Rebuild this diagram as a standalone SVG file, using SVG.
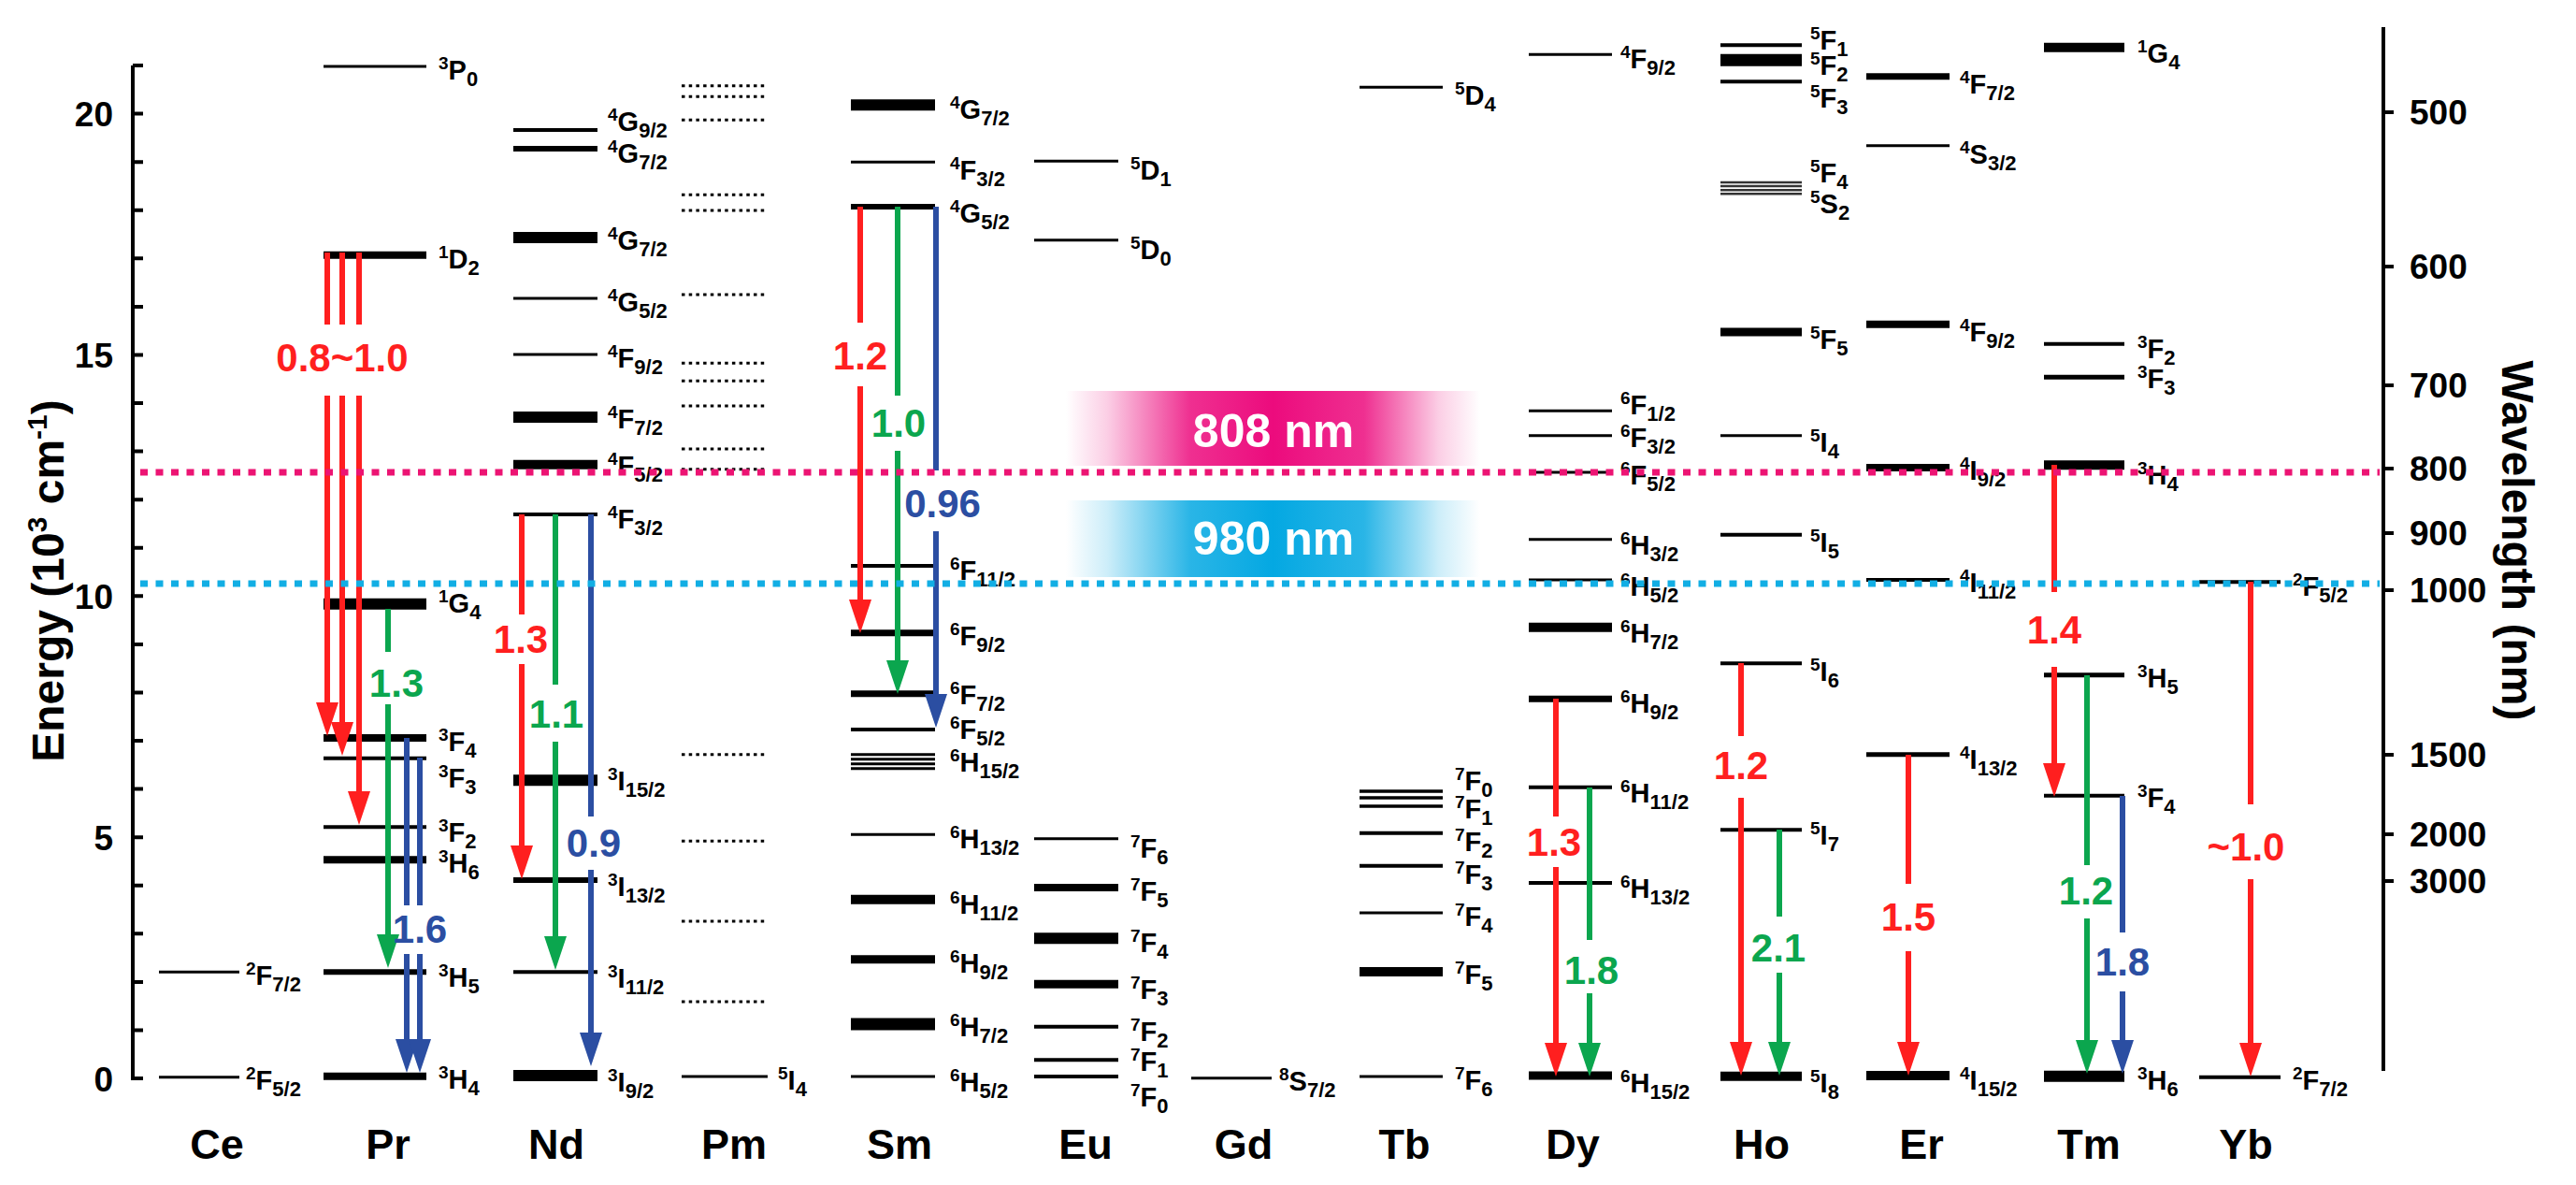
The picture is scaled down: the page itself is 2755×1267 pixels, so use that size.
<svg xmlns="http://www.w3.org/2000/svg" width="2755" height="1267" viewBox="0 0 2755 1267">
<defs>
<style>
text{font-family:"Liberation Sans",Arial,sans-serif;font-weight:bold}
.lv{stroke:#000;fill:none}
.pm{stroke:#000;stroke-width:3;stroke-dasharray:3.5 4.2;fill:none}
.lb{font-size:29px}
.sp{font-size:19px}
.sb{font-size:22px}
.el{font-size:45px;text-anchor:middle}
.tk{font-size:37px}
.ax{stroke:#000;stroke-width:4;fill:none}
.ar{stroke-width:6;fill:none}
.r{stroke:#FF1F1F}.g{stroke:#0BA64E}.b{stroke:#2B4EA2}
.nr,.ng,.nb{font-size:42px;text-anchor:middle}
.nr{fill:#FF1F1F}.ng{fill:#0BA64E}.nb{fill:#2B4EA2}
.las{stroke-width:7;stroke-dasharray:8 8.5;fill:none}
.wl{font-size:50px;fill:#fff;text-anchor:middle}
</style>
<marker id="mr" viewBox="0 -13 36 26" markerWidth="36" markerHeight="26" refX="21" refY="0" orient="auto" markerUnits="userSpaceOnUse"><path d="M0,-12L36,0L0,12z" fill="#FF1F1F"/></marker>
<marker id="mg" viewBox="0 -13 36 26" markerWidth="36" markerHeight="26" refX="21" refY="0" orient="auto" markerUnits="userSpaceOnUse"><path d="M0,-12L36,0L0,12z" fill="#0BA64E"/></marker>
<marker id="mb" viewBox="0 -13 36 26" markerWidth="36" markerHeight="26" refX="21" refY="0" orient="auto" markerUnits="userSpaceOnUse"><path d="M0,-12L36,0L0,12z" fill="#2B4EA2"/></marker>
<linearGradient id="gp" x1="0" y1="0" x2="1" y2="0">
<stop offset="0" stop-color="#EC0B7D" stop-opacity="0"/>
<stop offset="0.1" stop-color="#EC0B7D" stop-opacity="0.2"/>
<stop offset="0.3" stop-color="#EC0B7D" stop-opacity="0.85"/>
<stop offset="0.5" stop-color="#EC0B7D" stop-opacity="1"/>
<stop offset="0.72" stop-color="#EC0B7D" stop-opacity="0.85"/>
<stop offset="0.9" stop-color="#EC0B7D" stop-opacity="0.2"/>
<stop offset="1" stop-color="#EC0B7D" stop-opacity="0"/>
</linearGradient>
<linearGradient id="gc" x1="0" y1="0" x2="1" y2="0">
<stop offset="0" stop-color="#04A8E2" stop-opacity="0"/>
<stop offset="0.1" stop-color="#04A8E2" stop-opacity="0.2"/>
<stop offset="0.3" stop-color="#04A8E2" stop-opacity="0.85"/>
<stop offset="0.5" stop-color="#04A8E2" stop-opacity="1"/>
<stop offset="0.72" stop-color="#04A8E2" stop-opacity="0.85"/>
<stop offset="0.9" stop-color="#04A8E2" stop-opacity="0.2"/>
<stop offset="1" stop-color="#04A8E2" stop-opacity="0"/>
</linearGradient>
</defs>
<rect width="2755" height="1267" fill="#fff"/>

<g id="axes">
<path class="ax" d="M142 70V1155"/>
<path class="ax" d="M142 1153h11M142 1101.4h11M142 1049.9h11M142 998.3h11M142 946.7h11M142 895.2h11M142 843.6h11M142 792h11M142 740.4h11M142 688.9h11M142 637.3h11M142 585.7h11M142 534.2h11M142 482.6h11M142 431h11M142 379.5h11M142 327.9h11M142 276.3h11M142 224.7h11M142 173.2h11M142 121.6h11M142 70h11"/>
<g class="tk" text-anchor="end">
<text x="121" y="1167">0</text>
<text x="121" y="909">5</text>
<text x="121" y="651">10</text>
<text x="121" y="393">15</text>
<text x="121" y="135">20</text>
</g>
<text font-size="48" text-anchor="middle" transform="translate(68 621) rotate(-90)">Energy (10<tspan font-size="30" dy="-18">3</tspan><tspan dy="18"> cm</tspan><tspan font-size="30" dy="-18">-1</tspan><tspan dy="18">)</tspan></text>
<path class="ax" d="M2549 29V1145"/>
<path class="ax" d="M2549 120h11M2549 285h11M2549 412h11M2549 501h11M2549 570h11M2549 631h11M2549 807h11M2549 892h11M2549 942h11"/>
<g class="tk">
<text x="2577" y="133">500</text>
<text x="2577" y="298">600</text>
<text x="2577" y="425">700</text>
<text x="2577" y="514">800</text>
<text x="2577" y="583">900</text>
<text x="2577" y="644">1000</text>
<text x="2577" y="820">1500</text>
<text x="2577" y="905">2000</text>
<text x="2577" y="955">3000</text>
</g>
<text font-size="48" text-anchor="middle" transform="translate(2676 578) rotate(90)">Wavelength (nm)</text>
</g>

<g id="Ce">
<path class="lv" stroke-width="3" d="M170 1039.3H256M170 1151.7H256"/>
<text class="lb" x="263" y="1053"><tspan class="sp" dy="-11">2</tspan><tspan dy="11">F</tspan><tspan class="sb" dy="7">7/2</tspan></text>
<text class="lb" x="263" y="1165"><tspan class="sp" dy="-11">2</tspan><tspan dy="11">F</tspan><tspan class="sb" dy="7">5/2</tspan></text>
<text class="el" x="232" y="1239">Ce</text>
</g>

<g id="Pr">
<path class="lv" stroke-width="3" d="M346 71H456"/>
<path class="lv" stroke-width="8" d="M346 272.7H456M346 789H456M346 919.3H456M346 1150.7H456"/>
<path class="lv" stroke-width="12" d="M346 645.7H456"/>
<path class="lv" stroke-width="4" d="M346 810.7H456M346 884.3H456"/>
<path class="lv" stroke-width="6" d="M346 1039.3H456"/>
<text class="lb" x="469" y="85"><tspan class="sp" dy="-11">3</tspan><tspan dy="11">P</tspan><tspan class="sb" dy="7">0</tspan></text>
<text class="lb" x="469" y="287"><tspan class="sp" dy="-11">1</tspan><tspan dy="11">D</tspan><tspan class="sb" dy="7">2</tspan></text>
<text class="lb" x="469" y="655"><tspan class="sp" dy="-11">1</tspan><tspan dy="11">G</tspan><tspan class="sb" dy="7">4</tspan></text>
<text class="lb" x="469" y="803"><tspan class="sp" dy="-11">3</tspan><tspan dy="11">F</tspan><tspan class="sb" dy="7">4</tspan></text>
<text class="lb" x="469" y="842"><tspan class="sp" dy="-11">3</tspan><tspan dy="11">F</tspan><tspan class="sb" dy="7">3</tspan></text>
<text class="lb" x="469" y="900"><tspan class="sp" dy="-11">3</tspan><tspan dy="11">F</tspan><tspan class="sb" dy="7">2</tspan></text>
<text class="lb" x="469" y="933"><tspan class="sp" dy="-11">3</tspan><tspan dy="11">H</tspan><tspan class="sb" dy="7">6</tspan></text>
<text class="lb" x="469" y="1055"><tspan class="sp" dy="-11">3</tspan><tspan dy="11">H</tspan><tspan class="sb" dy="7">5</tspan></text>
<text class="lb" x="469" y="1164"><tspan class="sp" dy="-11">3</tspan><tspan dy="11">H</tspan><tspan class="sb" dy="7">4</tspan></text>
<text class="el" x="415" y="1239">Pr</text>
</g>

<g id="Nd">
<path class="lv" stroke-width="4" d="M549 139H639M549 550H639M549 1039.3H639"/>
<path class="lv" stroke-width="6" d="M549 159H639M549 941H639"/>
<path class="lv" stroke-width="12" d="M549 254H639M549 446H639M549 834.3H639M549 1150H639"/>
<path class="lv" stroke-width="3" d="M549 319H639M549 379H639"/>
<path class="lv" stroke-width="10" d="M549 496.7H639"/>
<text class="lb" x="650" y="140"><tspan class="sp" dy="-11">4</tspan><tspan dy="11">G</tspan><tspan class="sb" dy="7">9/2</tspan></text>
<text class="lb" x="650" y="174"><tspan class="sp" dy="-11">4</tspan><tspan dy="11">G</tspan><tspan class="sb" dy="7">7/2</tspan></text>
<text class="lb" x="650" y="267"><tspan class="sp" dy="-11">4</tspan><tspan dy="11">G</tspan><tspan class="sb" dy="7">7/2</tspan></text>
<text class="lb" x="650" y="333"><tspan class="sp" dy="-11">4</tspan><tspan dy="11">G</tspan><tspan class="sb" dy="7">5/2</tspan></text>
<text class="lb" x="650" y="393"><tspan class="sp" dy="-11">4</tspan><tspan dy="11">F</tspan><tspan class="sb" dy="7">9/2</tspan></text>
<text class="lb" x="650" y="458"><tspan class="sp" dy="-11">4</tspan><tspan dy="11">F</tspan><tspan class="sb" dy="7">7/2</tspan></text>
<text class="lb" x="650" y="508"><tspan class="sp" dy="-11">4</tspan><tspan dy="11">F</tspan><tspan class="sb" dy="7">5/2</tspan></text>
<text class="lb" x="650" y="565"><tspan class="sp" dy="-11">4</tspan><tspan dy="11">F</tspan><tspan class="sb" dy="7">3/2</tspan></text>
<text class="lb" x="650" y="845"><tspan class="sp" dy="-11">3</tspan><tspan dy="11">I</tspan><tspan class="sb" dy="7">15/2</tspan></text>
<text class="lb" x="650" y="958"><tspan class="sp" dy="-11">3</tspan><tspan dy="11">I</tspan><tspan class="sb" dy="7">13/2</tspan></text>
<text class="lb" x="650" y="1056"><tspan class="sp" dy="-11">3</tspan><tspan dy="11">I</tspan><tspan class="sb" dy="7">11/2</tspan></text>
<text class="lb" x="650" y="1167"><tspan class="sp" dy="-11">3</tspan><tspan dy="11">I</tspan><tspan class="sb" dy="7">9/2</tspan></text>
<text class="el" x="595" y="1239">Nd</text>
</g>

<g id="Pm">
<path class="pm" d="M729 91.7H821M729 103.3H821M729 128.3H821M729 208.3H821M729 225H821M729 315H821M729 388.3H821M729 407.3H821M729 434H821M729 480H821M729 501.7H821M729 806.7H821M729 899.3H821M729 985H821M729 1071H821"/>
<path class="lv" stroke-width="3" d="M729 1151H821"/>
<text class="lb" x="832" y="1165"><tspan class="sp" dy="-11">5</tspan><tspan dy="11">I</tspan><tspan class="sb" dy="7">4</tspan></text>
<text class="el" x="785" y="1239">Pm</text>
</g>

<g id="Sm">
<path class="lv" stroke-width="12" d="M910 112.3H1000"/>
<path class="lv" stroke-width="3" d="M910 173.3H1000M910 806.7H1000M910 811.7H1000M910 816.7H1000M910 821.7H1000M910 892.3H1000M910 1151H1000"/>
<path class="lv" stroke-width="6" d="M910 221H1000"/>
<path class="lv" stroke-width="4" d="M910 605H1000M910 780H1000"/>
<path class="lv" stroke-width="7" d="M910 676.7H1000M910 741.7H1000"/>
<path class="lv" stroke-width="10" d="M910 961.7H1000"/>
<path class="lv" stroke-width="9" d="M910 1025.7H1000"/>
<path class="lv" stroke-width="13" d="M910 1095H1000"/>
<text class="lb" x="1016" y="127"><tspan class="sp" dy="-11">4</tspan><tspan dy="11">G</tspan><tspan class="sb" dy="7">7/2</tspan></text>
<text class="lb" x="1016" y="192"><tspan class="sp" dy="-11">4</tspan><tspan dy="11">F</tspan><tspan class="sb" dy="7">3/2</tspan></text>
<text class="lb" x="1016" y="238"><tspan class="sp" dy="-11">4</tspan><tspan dy="11">G</tspan><tspan class="sb" dy="7">5/2</tspan></text>
<text class="lb" x="1016" y="620"><tspan class="sp" dy="-11">6</tspan><tspan dy="11">F</tspan><tspan class="sb" dy="7">11/2</tspan></text>
<text class="lb" x="1016" y="690"><tspan class="sp" dy="-11">6</tspan><tspan dy="11">F</tspan><tspan class="sb" dy="7">9/2</tspan></text>
<text class="lb" x="1016" y="753"><tspan class="sp" dy="-11">6</tspan><tspan dy="11">F</tspan><tspan class="sb" dy="7">7/2</tspan></text>
<text class="lb" x="1016" y="790"><tspan class="sp" dy="-11">6</tspan><tspan dy="11">F</tspan><tspan class="sb" dy="7">5/2</tspan></text>
<text class="lb" x="1016" y="825"><tspan class="sp" dy="-11">6</tspan><tspan dy="11">H</tspan><tspan class="sb" dy="7">15/2</tspan></text>
<text class="lb" x="1016" y="907"><tspan class="sp" dy="-11">6</tspan><tspan dy="11">H</tspan><tspan class="sb" dy="7">13/2</tspan></text>
<text class="lb" x="1016" y="977"><tspan class="sp" dy="-11">6</tspan><tspan dy="11">H</tspan><tspan class="sb" dy="7">11/2</tspan></text>
<text class="lb" x="1016" y="1040"><tspan class="sp" dy="-11">6</tspan><tspan dy="11">H</tspan><tspan class="sb" dy="7">9/2</tspan></text>
<text class="lb" x="1016" y="1108"><tspan class="sp" dy="-11">6</tspan><tspan dy="11">H</tspan><tspan class="sb" dy="7">7/2</tspan></text>
<text class="lb" x="1016" y="1167"><tspan class="sp" dy="-11">6</tspan><tspan dy="11">H</tspan><tspan class="sb" dy="7">5/2</tspan></text>
<text class="el" x="962" y="1239">Sm</text>
</g>

<g id="Eu">
<path class="lv" stroke-width="3" d="M1106 172.3H1196M1106 256.7H1196M1106 896.7H1196"/>
<path class="lv" stroke-width="8" d="M1106 949H1196"/>
<path class="lv" stroke-width="12" d="M1106 1003.3H1196"/>
<path class="lv" stroke-width="9" d="M1106 1052.3H1196"/>
<path class="lv" stroke-width="4" d="M1106 1097.7H1196M1106 1133.3H1196M1106 1151H1196"/>
<text class="lb" x="1209" y="192"><tspan class="sp" dy="-11">5</tspan><tspan dy="11">D</tspan><tspan class="sb" dy="7">1</tspan></text>
<text class="lb" x="1209" y="277"><tspan class="sp" dy="-11">5</tspan><tspan dy="11">D</tspan><tspan class="sb" dy="7">0</tspan></text>
<text class="lb" x="1209" y="917"><tspan class="sp" dy="-11">7</tspan><tspan dy="11">F</tspan><tspan class="sb" dy="7">6</tspan></text>
<text class="lb" x="1209" y="963"><tspan class="sp" dy="-11">7</tspan><tspan dy="11">F</tspan><tspan class="sb" dy="7">5</tspan></text>
<text class="lb" x="1209" y="1018"><tspan class="sp" dy="-11">7</tspan><tspan dy="11">F</tspan><tspan class="sb" dy="7">4</tspan></text>
<text class="lb" x="1209" y="1068"><tspan class="sp" dy="-11">7</tspan><tspan dy="11">F</tspan><tspan class="sb" dy="7">3</tspan></text>
<text class="lb" x="1209" y="1113"><tspan class="sp" dy="-11">7</tspan><tspan dy="11">F</tspan><tspan class="sb" dy="7">2</tspan></text>
<text class="lb" x="1209" y="1145"><tspan class="sp" dy="-11">7</tspan><tspan dy="11">F</tspan><tspan class="sb" dy="7">1</tspan></text>
<text class="lb" x="1209" y="1183"><tspan class="sp" dy="-11">7</tspan><tspan dy="11">F</tspan><tspan class="sb" dy="7">0</tspan></text>
<text class="el" x="1161" y="1239">Eu</text>
</g>

<g id="Gd">
<path class="lv" stroke-width="3" d="M1274 1152.7H1360"/>
<text class="lb" x="1368" y="1166"><tspan class="sp" dy="-11">8</tspan><tspan dy="11">S</tspan><tspan class="sb" dy="7">7/2</tspan></text>
<text class="el" x="1330" y="1239">Gd</text>
</g>

<g id="Tb">
<path class="lv" stroke-width="3" d="M1454 93.3H1543M1454 976H1543M1454 1151H1543"/>
<path class="lv" stroke-width="3.5" d="M1454 846H1543M1454 853H1543M1454 862H1543"/>
<path class="lv" stroke-width="4" d="M1454 890.7H1543M1454 925.7H1543"/>
<path class="lv" stroke-width="10" d="M1454 1039H1543"/>
<text class="lb" x="1556" y="112"><tspan class="sp" dy="-11">5</tspan><tspan dy="11">D</tspan><tspan class="sb" dy="7">4</tspan></text>
<text class="lb" x="1556" y="845"><tspan class="sp" dy="-11">7</tspan><tspan dy="11">F</tspan><tspan class="sb" dy="7">0</tspan></text>
<text class="lb" x="1556" y="875"><tspan class="sp" dy="-11">7</tspan><tspan dy="11">F</tspan><tspan class="sb" dy="7">1</tspan></text>
<text class="lb" x="1556" y="910"><tspan class="sp" dy="-11">7</tspan><tspan dy="11">F</tspan><tspan class="sb" dy="7">2</tspan></text>
<text class="lb" x="1556" y="945"><tspan class="sp" dy="-11">7</tspan><tspan dy="11">F</tspan><tspan class="sb" dy="7">3</tspan></text>
<text class="lb" x="1556" y="990"><tspan class="sp" dy="-11">7</tspan><tspan dy="11">F</tspan><tspan class="sb" dy="7">4</tspan></text>
<text class="lb" x="1556" y="1052"><tspan class="sp" dy="-11">7</tspan><tspan dy="11">F</tspan><tspan class="sb" dy="7">5</tspan></text>
<text class="lb" x="1556" y="1165"><tspan class="sp" dy="-11">7</tspan><tspan dy="11">F</tspan><tspan class="sb" dy="7">6</tspan></text>
<text class="el" x="1502" y="1239">Tb</text>
</g>

<g id="Dy">
<path class="lv" stroke-width="3" d="M1635 58.3H1724M1635 439.3H1724M1635 465.7H1724M1635 505H1724M1635 576.7H1724M1635 620H1724"/>
<path class="lv" stroke-width="10" d="M1635 670.7H1724"/>
<path class="lv" stroke-width="7" d="M1635 747.3H1724"/>
<path class="lv" stroke-width="4" d="M1635 841.7H1724M1635 944H1724"/>
<path class="lv" stroke-width="9" d="M1635 1150H1724"/>
<text class="lb" x="1733" y="73"><tspan class="sp" dy="-11">4</tspan><tspan dy="11">F</tspan><tspan class="sb" dy="7">9/2</tspan></text>
<text class="lb" x="1733" y="443"><tspan class="sp" dy="-11">6</tspan><tspan dy="11">F</tspan><tspan class="sb" dy="7">1/2</tspan></text>
<text class="lb" x="1733" y="478"><tspan class="sp" dy="-11">6</tspan><tspan dy="11">F</tspan><tspan class="sb" dy="7">3/2</tspan></text>
<text class="lb" x="1733" y="518"><tspan class="sp" dy="-11">6</tspan><tspan dy="11">F</tspan><tspan class="sb" dy="7">5/2</tspan></text>
<text class="lb" x="1733" y="593"><tspan class="sp" dy="-11">6</tspan><tspan dy="11">H</tspan><tspan class="sb" dy="7">3/2</tspan></text>
<text class="lb" x="1733" y="637"><tspan class="sp" dy="-11">6</tspan><tspan dy="11">H</tspan><tspan class="sb" dy="7">5/2</tspan></text>
<text class="lb" x="1733" y="687"><tspan class="sp" dy="-11">6</tspan><tspan dy="11">H</tspan><tspan class="sb" dy="7">7/2</tspan></text>
<text class="lb" x="1733" y="762"><tspan class="sp" dy="-11">6</tspan><tspan dy="11">H</tspan><tspan class="sb" dy="7">9/2</tspan></text>
<text class="lb" x="1733" y="858"><tspan class="sp" dy="-11">6</tspan><tspan dy="11">H</tspan><tspan class="sb" dy="7">11/2</tspan></text>
<text class="lb" x="1733" y="960"><tspan class="sp" dy="-11">6</tspan><tspan dy="11">H</tspan><tspan class="sb" dy="7">13/2</tspan></text>
<text class="lb" x="1733" y="1168"><tspan class="sp" dy="-11">6</tspan><tspan dy="11">H</tspan><tspan class="sb" dy="7">15/2</tspan></text>
<text class="el" x="1682" y="1239">Dy</text>
</g>

<g id="Ho">
<path class="lv" stroke-width="4" d="M1840 48.3H1927M1840 87.3H1927M1840 571.7H1927M1840 709.3H1927M1840 887.3H1927"/>
<path class="lv" stroke-width="13" d="M1840 64.3H1927"/>
<path stroke="#333" stroke-width="2.5" fill="none" d="M1840 195H1927M1840 199H1927M1840 203.3H1927M1840 207.3H1927"/>
<path class="lv" stroke-width="9" d="M1840 355H1927"/>
<path class="lv" stroke-width="3" d="M1840 465.7H1927"/>
<path class="lv" stroke-width="10" d="M1840 1150.7H1927"/>
<text class="lb" x="1936" y="53"><tspan class="sp" dy="-11">5</tspan><tspan dy="11">F</tspan><tspan class="sb" dy="7">1</tspan></text>
<text class="lb" x="1936" y="80"><tspan class="sp" dy="-11">5</tspan><tspan dy="11">F</tspan><tspan class="sb" dy="7">2</tspan></text>
<text class="lb" x="1936" y="115"><tspan class="sp" dy="-11">5</tspan><tspan dy="11">F</tspan><tspan class="sb" dy="7">3</tspan></text>
<text class="lb" x="1936" y="195"><tspan class="sp" dy="-11">5</tspan><tspan dy="11">F</tspan><tspan class="sb" dy="7">4</tspan></text>
<text class="lb" x="1936" y="228"><tspan class="sp" dy="-11">5</tspan><tspan dy="11">S</tspan><tspan class="sb" dy="7">2</tspan></text>
<text class="lb" x="1936" y="373"><tspan class="sp" dy="-11">5</tspan><tspan dy="11">F</tspan><tspan class="sb" dy="7">5</tspan></text>
<text class="lb" x="1936" y="483"><tspan class="sp" dy="-11">5</tspan><tspan dy="11">I</tspan><tspan class="sb" dy="7">4</tspan></text>
<text class="lb" x="1936" y="590"><tspan class="sp" dy="-11">5</tspan><tspan dy="11">I</tspan><tspan class="sb" dy="7">5</tspan></text>
<text class="lb" x="1936" y="728"><tspan class="sp" dy="-11">5</tspan><tspan dy="11">I</tspan><tspan class="sb" dy="7">6</tspan></text>
<text class="lb" x="1936" y="903"><tspan class="sp" dy="-11">5</tspan><tspan dy="11">I</tspan><tspan class="sb" dy="7">7</tspan></text>
<text class="lb" x="1936" y="1168"><tspan class="sp" dy="-11">5</tspan><tspan dy="11">I</tspan><tspan class="sb" dy="7">8</tspan></text>
<text class="el" x="1884" y="1239">Ho</text>
</g>

<g id="Er">
<path class="lv" stroke-width="7" d="M1996 81.7H2085"/>
<path class="lv" stroke-width="3" d="M1996 155.7H2085"/>
<path class="lv" stroke-width="8" d="M1996 346.7H2085M1996 500H2085"/>
<path class="lv" stroke-width="4" d="M1996 620H2085"/>
<path class="lv" stroke-width="5" d="M1996 806.7H2085"/>
<path class="lv" stroke-width="10" d="M1996 1150H2085"/>
<text class="lb" x="2096" y="100"><tspan class="sp" dy="-11">4</tspan><tspan dy="11">F</tspan><tspan class="sb" dy="7">7/2</tspan></text>
<text class="lb" x="2096" y="175"><tspan class="sp" dy="-11">4</tspan><tspan dy="11">S</tspan><tspan class="sb" dy="7">3/2</tspan></text>
<text class="lb" x="2096" y="365"><tspan class="sp" dy="-11">4</tspan><tspan dy="11">F</tspan><tspan class="sb" dy="7">9/2</tspan></text>
<text class="lb" x="2096" y="513"><tspan class="sp" dy="-11">4</tspan><tspan dy="11">I</tspan><tspan class="sb" dy="7">9/2</tspan></text>
<text class="lb" x="2096" y="633"><tspan class="sp" dy="-11">4</tspan><tspan dy="11">I</tspan><tspan class="sb" dy="7">11/2</tspan></text>
<text class="lb" x="2096" y="822"><tspan class="sp" dy="-11">4</tspan><tspan dy="11">I</tspan><tspan class="sb" dy="7">13/2</tspan></text>
<text class="lb" x="2096" y="1165"><tspan class="sp" dy="-11">4</tspan><tspan dy="11">I</tspan><tspan class="sb" dy="7">15/2</tspan></text>
<text class="el" x="2055" y="1239">Er</text>
</g>

<g id="Tm">
<path class="lv" stroke-width="10" d="M2186 50.7H2272M2186 497.3H2272"/>
<path class="lv" stroke-width="4" d="M2186 367.7H2272M2186 850.7H2272"/>
<path class="lv" stroke-width="5" d="M2186 403.3H2272M2186 721.7H2272"/>
<path class="lv" stroke-width="12" d="M2186 1150.7H2272"/>
<text class="lb" x="2286" y="67"><tspan class="sp" dy="-11">1</tspan><tspan dy="11">G</tspan><tspan class="sb" dy="7">4</tspan></text>
<text class="lb" x="2286" y="383"><tspan class="sp" dy="-11">3</tspan><tspan dy="11">F</tspan><tspan class="sb" dy="7">2</tspan></text>
<text class="lb" x="2286" y="415"><tspan class="sp" dy="-11">3</tspan><tspan dy="11">F</tspan><tspan class="sb" dy="7">3</tspan></text>
<text class="lb" x="2286" y="518"><tspan class="sp" dy="-11">3</tspan><tspan dy="11">H</tspan><tspan class="sb" dy="7">4</tspan></text>
<text class="lb" x="2286" y="735"><tspan class="sp" dy="-11">3</tspan><tspan dy="11">H</tspan><tspan class="sb" dy="7">5</tspan></text>
<text class="lb" x="2286" y="863"><tspan class="sp" dy="-11">3</tspan><tspan dy="11">F</tspan><tspan class="sb" dy="7">4</tspan></text>
<text class="lb" x="2286" y="1165"><tspan class="sp" dy="-11">3</tspan><tspan dy="11">H</tspan><tspan class="sb" dy="7">6</tspan></text>
<text class="el" x="2234" y="1239">Tm</text>
</g>

<g id="Yb">
<path class="lv" stroke-width="4" d="M2352 622.3H2439M2352 1151.7H2439"/>
<text class="lb" x="2452" y="637"><tspan class="sp" dy="-11">2</tspan><tspan dy="11">F</tspan><tspan class="sb" dy="7">5/2</tspan></text>
<text class="lb" x="2452" y="1165"><tspan class="sp" dy="-11">2</tspan><tspan dy="11">F</tspan><tspan class="sb" dy="7">7/2</tspan></text>
<text class="el" x="2402" y="1239">Yb</text>
</g>

<g id="connectors">
<path class="ar r" d="M350 270V347M366 270V347M384 270V347"/>
<path class="ar r" d="M350 423V772" marker-end="url(#mr)"/>
<path class="ar r" d="M366 423V793" marker-end="url(#mr)"/>
<path class="ar r" d="M384 423V867" marker-end="url(#mr)"/>
<path class="ar g" d="M415 651V697"/>
<path class="ar g" d="M415 753V1020" marker-end="url(#mg)"/>
<path class="ar b" d="M435 789V968M449 810V968"/>
<path class="ar b" d="M435 1020V1132" marker-end="url(#mb)"/>
<path class="ar b" d="M449 1020V1132" marker-end="url(#mb)"/>

<path class="ar r" d="M558 550V657"/>
<path class="ar r" d="M558 710V925" marker-end="url(#mr)"/>
<path class="ar g" d="M594 550V732"/>
<path class="ar g" d="M594 793V1022" marker-end="url(#mg)"/>
<path class="ar b" d="M632 550V873"/>
<path class="ar b" d="M632 930V1125" marker-end="url(#mb)"/>

<path class="ar r" d="M920 221V345"/>
<path class="ar r" d="M920 413V662" marker-end="url(#mr)"/>
<path class="ar g" d="M960 221V423"/>
<path class="ar g" d="M960 482V727" marker-end="url(#mg)"/>
<path class="ar b" d="M1001 221V503"/>
<path class="ar b" d="M1001 568V763" marker-end="url(#mb)"/>

<path class="ar r" d="M1664 747V873"/>
<path class="ar r" d="M1664 927V1136" marker-end="url(#mr)"/>
<path class="ar g" d="M1700 842V1005"/>
<path class="ar g" d="M1700 1062V1136" marker-end="url(#mg)"/>

<path class="ar r" d="M1862 709V787"/>
<path class="ar r" d="M1862 853V1135" marker-end="url(#mr)"/>
<path class="ar g" d="M1903 887V980"/>
<path class="ar g" d="M1903 1040V1135" marker-end="url(#mg)"/>

<path class="ar r" d="M2041 807V945"/>
<path class="ar r" d="M2041 1017V1135" marker-end="url(#mr)"/>

<path class="ar r" d="M2197 497V633"/>
<path class="ar r" d="M2197 713V837" marker-end="url(#mr)"/>
<path class="ar g" d="M2232 722V925"/>
<path class="ar g" d="M2232 982V1133" marker-end="url(#mg)"/>
<path class="ar b" d="M2270 851V997"/>
<path class="ar b" d="M2270 1060V1133" marker-end="url(#mb)"/>

<path class="ar r" d="M2407 622V860"/>
<path class="ar r" d="M2407 940V1136" marker-end="url(#mr)"/>
</g>

<g id="excitation">
<path class="las" stroke="#EC1473" d="M150 505H2545"/>
<path class="las" stroke="#12AEE4" d="M150 624H2545"/>
<rect x="1140" y="418" width="443" height="80" fill="url(#gp)"/>
<text class="wl" x="1362" y="478">808 nm</text>
<rect x="1140" y="535" width="443" height="82" fill="url(#gc)"/>
<text class="wl" x="1362" y="593">980 nm</text>
</g>

<g id="values">
<text class="nr" x="366" y="397">0.8~1.0</text>
<text class="ng" x="424" y="745">1.3</text>
<text class="nb" x="449" y="1008">1.6</text>
<text class="nr" x="557" y="698">1.3</text>
<text class="ng" x="595" y="778">1.1</text>
<text class="nb" x="635" y="916">0.9</text>
<text class="nr" x="920" y="395">1.2</text>
<text class="ng" x="961" y="467">1.0</text>
<text class="nb" x="1008" y="553">0.96</text>
<text class="nr" x="1662" y="915">1.3</text>
<text class="ng" x="1702" y="1052">1.8</text>
<text class="nr" x="1862" y="833">1.2</text>
<text class="ng" x="1902" y="1028">2.1</text>
<text class="nr" x="2041" y="995">1.5</text>
<text class="nr" x="2197" y="688">1.4</text>
<text class="ng" x="2231" y="967">1.2</text>
<text class="nb" x="2270" y="1043">1.8</text>
<text class="nr" x="2402" y="920">~1.0</text>
</g>
</svg>
